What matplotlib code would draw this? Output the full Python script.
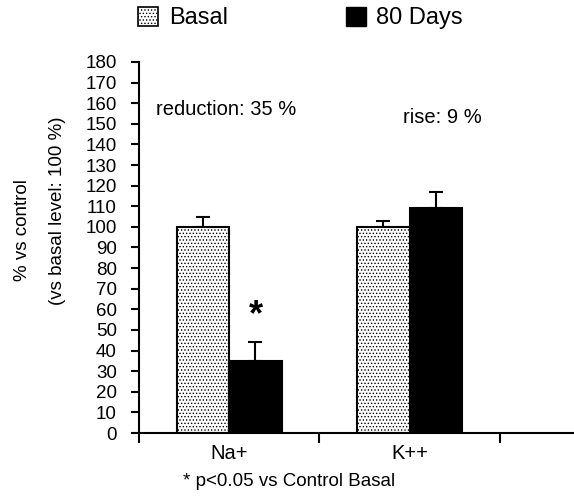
import matplotlib
matplotlib.use("Agg")
import matplotlib.pyplot as plt
import numpy as np
from matplotlib.patches import Patch

plt.rcParams['font.family'] = ['Liberation Sans', 'DejaVu Sans']
plt.rcParams['hatch.linewidth'] = 0.6
plt.rcParams['hatch.color'] = '#222222'

categories = ['Na+', 'K++']
basal = [100, 100]
basal_err = [5, 3]
days80 = [35, 109]
days80_err = [9, 8]
series_names = ['Basal', '80 Days']
y_ticks = list(range(0, 181, 10))

fig = plt.figure(figsize=(5.74, 4.96), dpi=100)
ax = fig.add_axes([139/574, 1-433/496, 1-139/574, (433-62)/496])

x = np.arange(len(categories))
w = 0.29
ax.bar(x - w/2, basal, width=w, color='white', edgecolor='black', linewidth=1.5,
       hatch='.....', zorder=2)
ax.bar(x + w/2, days80, width=w, color='black', edgecolor='black', linewidth=1.5, zorder=2)
ax.errorbar(x - w/2, basal, yerr=[[0]*len(basal), basal_err], fmt='none',
            ecolor='black', elinewidth=1.5, capsize=5, capthick=1.5, zorder=1)
ax.errorbar(x + w/2, days80, yerr=[[0]*len(days80), days80_err], fmt='none',
            ecolor='black', elinewidth=1.5, capsize=5, capthick=1.5, zorder=1)

ax.set_xlim(-0.5, 1.911)
ax.set_ylim(0, 180)
ax.set_yticks(y_ticks)
ax.set_yticklabels([str(t) for t in y_ticks], fontsize=13.5)
ax.set_xticks([-0.5, 0.5, 1.5])
ax.set_xticklabels([])
ax.set_xticks(x, minor=True)
ax.set_xticklabels(categories, minor=True, fontsize=14.5)
ax.tick_params(axis='x', which='minor', length=0, pad=8)
ax.tick_params(axis='x', which='major', length=7, width=1.5, direction='out')
ax.tick_params(axis='y', length=6, width=1.5, direction='out', pad=10)
for s in ['top', 'right']:
    ax.spines[s].set_visible(False)
for s in ['left', 'bottom']:
    ax.spines[s].set_linewidth(1.5)

ax.text(-0.406, 157, 'reduction: 35 %', fontsize=14.5, va='center', ha='left')
ax.text(0.961, 153, 'rise: 9 %', fontsize=14.5, va='center', ha='left')
ax.text(0.15, 57, '*', fontsize=26, fontweight='bold', ha='center', va='center')

fig.text(183/574, 1-481/496, '* p<0.05 vs Control Basal', fontsize=13.5, ha='left', va='center')

fig.text(23/574, 1-230/496, '% vs control', rotation=90, fontsize=13.5, ha='center', va='center')
fig.text(58/574, 1-211/496, '(vs basal level: 100 %)', rotation=90, fontsize=13.5, ha='center', va='center')

handles = [Patch(facecolor='white', edgecolor='black', hatch='.....', linewidth=1.2),
           Patch(facecolor='black', edgecolor='black')]
fig.legend(handles, series_names, loc='center left', bbox_to_anchor=(138/574, 1-18/496),
           ncol=2, frameon=False, fontsize=17, handlelength=0.85, handleheight=0.85,
           handletextpad=0.45, columnspacing=5.0, borderaxespad=0, borderpad=0)

fig.savefig('out.png', dpi=100)
